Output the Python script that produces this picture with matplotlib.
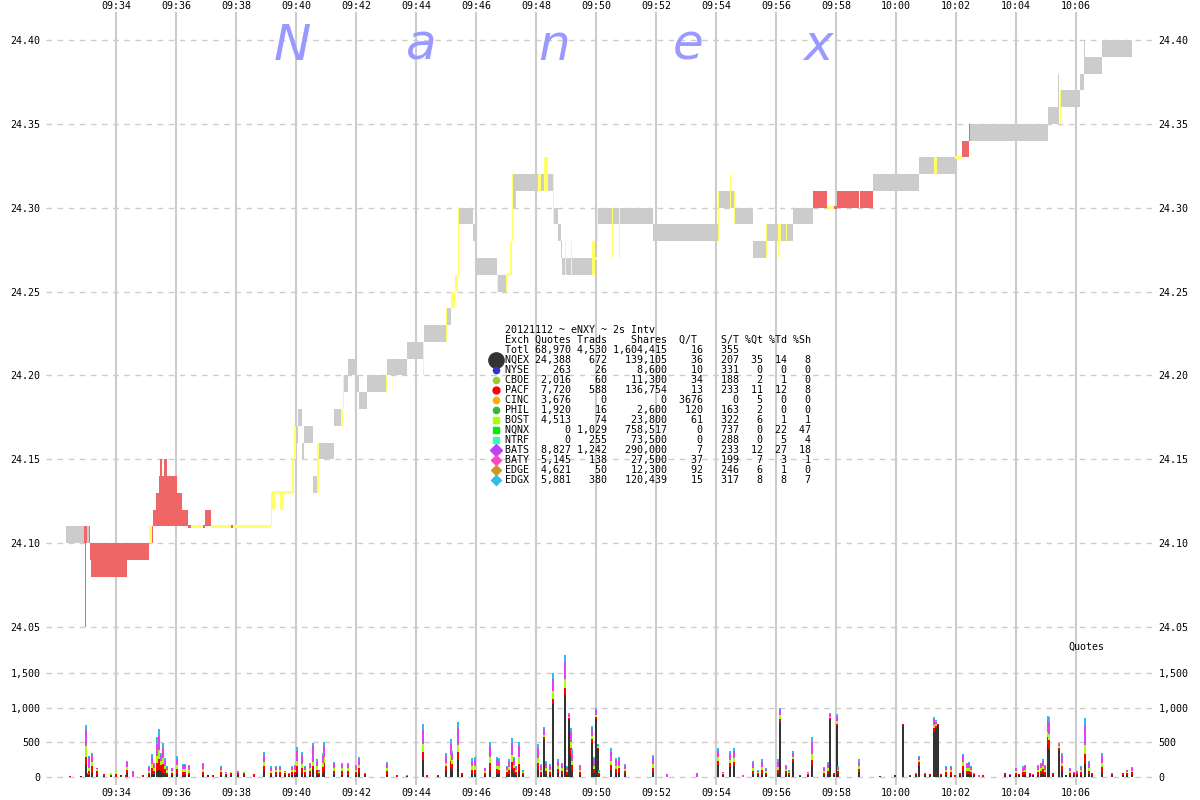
import matplotlib
matplotlib.use("Agg")
import matplotlib.pyplot as plt

# ---------------- data ----------------
# quote band (bid..ask) per time slice, coloured by source
band_start = ["09:32:20", "09:32:56", "09:32:58", "09:33:00", "09:33:02", "09:33:06", "09:33:08", "09:33:10",
              "09:34:22", "09:35:06", "09:35:12", "09:35:14", "09:35:20", "09:35:26", "09:35:28", "09:35:32",
              "09:35:36", "09:35:42", "09:36:02", "09:36:12", "09:36:24", "09:36:30", "09:36:54", "09:36:58",
              "09:37:10", "09:37:50", "09:37:54", "09:39:10", "09:39:12", "09:39:12", "09:39:28", "09:39:52",
              "09:39:56", "09:40:00", "09:40:04", "09:40:12", "09:40:16", "09:40:34", "09:40:42", "09:40:46",
              "09:41:16", "09:41:30", "09:41:34", "09:41:36", "09:41:44", "09:42:00", "09:42:06", "09:42:22",
              "09:43:00", "09:43:02", "09:43:42", "09:44:14", "09:44:16", "09:45:00", "09:45:02", "09:45:10",
              "09:45:18", "09:45:24", "09:45:26", "09:45:54", "09:45:58", "09:46:42", "09:46:42", "09:47:00",
              "09:47:02", "09:47:08", "09:47:12", "09:47:14", "09:47:20", "09:48:04", "09:48:10", "09:48:16",
              "09:48:24", "09:48:34", "09:48:36", "09:48:44", "09:48:50", "09:48:52", "09:48:58", "09:49:10",
              "09:49:52", "09:49:58", "09:50:02", "09:50:04", "09:50:32", "09:50:46", "09:51:54", "09:54:04",
              "09:54:06", "09:54:28", "09:54:36", "09:54:38", "09:55:14", "09:55:40", "09:55:42", "09:56:04",
              "09:56:04", "09:56:10", "09:56:20", "09:56:22", "09:56:34", "09:57:14", "09:57:42", "09:57:56",
              "09:58:02", "09:58:48", "09:59:14", "10:00:46", "10:01:16", "10:01:22", "10:01:58", "10:02:12",
              "10:02:26", "10:02:28", "10:05:04", "10:05:24", "10:05:28", "10:05:30", "10:06:08", "10:06:16",
              "10:06:18", "10:06:52"]
band_end = ["09:32:56", "09:32:59", "09:33:00", "09:33:02", "09:33:06", "09:33:08", "09:33:10", "09:34:22",
            "09:35:06", "09:35:12", "09:35:14", "09:35:20", "09:35:26", "09:35:28", "09:35:32", "09:35:36",
            "09:35:42", "09:36:02", "09:36:12", "09:36:24", "09:36:30", "09:36:54", "09:36:58", "09:37:10",
            "09:37:50", "09:37:54", "09:39:10", "09:39:12", "09:39:52", "09:39:18", "09:39:36", "09:39:56",
            "09:40:00", "09:40:04", "09:40:12", "09:40:16", "09:40:34", "09:40:42", "09:40:46", "09:41:16",
            "09:41:30", "09:41:34", "09:41:36", "09:41:44", "09:42:00", "09:42:06", "09:42:22", "09:43:00",
            "09:43:02", "09:43:42", "09:44:14", "09:44:16", "09:45:00", "09:45:02", "09:45:10", "09:45:18",
            "09:45:24", "09:45:26", "09:45:54", "09:45:58", "09:46:42", "09:47:02", "09:46:44", "09:47:02",
            "09:47:08", "09:47:12", "09:47:14", "09:47:20", "09:48:04", "09:48:10", "09:48:16", "09:48:24",
            "09:48:34", "09:48:36", "09:48:44", "09:48:50", "09:48:52", "09:49:52", "09:49:00", "09:49:12",
            "09:49:58", "09:50:02", "09:50:04", "09:51:54", "09:50:34", "09:50:48", "09:54:04", "09:54:06",
            "09:54:36", "09:54:30", "09:54:38", "09:55:14", "09:55:40", "09:55:42", "09:56:04", "09:56:10",
            "09:56:06", "09:56:20", "09:56:22", "09:56:34", "09:57:14", "09:57:42", "09:57:56", "09:58:02",
            "09:58:46", "09:59:14", "10:00:46", "10:01:16", "10:01:22", "10:01:58", "10:02:12", "10:02:26",
            "10:02:28", "10:05:04", "10:05:26", "10:05:26", "10:05:30", "10:06:08", "10:06:16", "10:06:18",
            "10:06:52", "10:07:52"]
band_bid = [24.10, 24.10, 24.05, 24.10, 24.10, 24.10, 24.09, 24.08,
            24.09, 24.10, 24.10, 24.11, 24.11, 24.11, 24.11, 24.11,
            24.11, 24.11, 24.11, 24.11, 24.11, 24.11, 24.11, 24.11,
            24.11, 24.11, 24.11, 24.11, 24.13, 24.12, 24.12, 24.13,
            24.15, 24.16, 24.17, 24.15, 24.16, 24.13, 24.13, 24.15,
            24.17, 24.17, 24.18, 24.19, 24.20, 24.19, 24.18, 24.19,
            24.19, 24.20, 24.21, 24.20, 24.22, 24.22, 24.23, 24.24,
            24.25, 24.26, 24.29, 24.28, 24.26, 24.25, 24.25, 24.25,
            24.26, 24.26, 24.28, 24.30, 24.31, 24.31, 24.31, 24.31,
            24.31, 24.29, 24.29, 24.28, 24.27, 24.26, 24.26, 24.26,
            24.26, 24.27, 24.28, 24.29, 24.27, 24.27, 24.28, 24.28,
            24.30, 24.30, 24.29, 24.29, 24.27, 24.27, 24.28, 24.28,
            24.27, 24.28, 24.28, 24.28, 24.29, 24.30, 24.30, 24.30,
            24.30, 24.30, 24.31, 24.32, 24.32, 24.32, 24.33, 24.33,
            24.34, 24.34, 24.35, 24.36, 24.35, 24.36, 24.37, 24.38,
            24.38, 24.39]
band_ask = [24.11, 24.11, 24.10, 24.11, 24.11, 24.11, 24.10, 24.10,
            24.10, 24.11, 24.11, 24.12, 24.13, 24.14, 24.15, 24.14,
            24.15, 24.14, 24.13, 24.12, 24.11, 24.11, 24.11, 24.12,
            24.11, 24.11, 24.11, 24.13, 24.13, 24.13, 24.13, 24.15,
            24.17, 24.17, 24.18, 24.16, 24.17, 24.14, 24.16, 24.16,
            24.18, 24.18, 24.20, 24.20, 24.21, 24.20, 24.19, 24.20,
            24.20, 24.21, 24.22, 24.22, 24.23, 24.24, 24.24, 24.25,
            24.26, 24.30, 24.30, 24.29, 24.27, 24.26, 24.26, 24.26,
            24.26, 24.28, 24.32, 24.32, 24.32, 24.32, 24.32, 24.33,
            24.32, 24.32, 24.30, 24.29, 24.28, 24.27, 24.28, 24.28,
            24.28, 24.27, 24.30, 24.30, 24.30, 24.30, 24.29, 24.31,
            24.31, 24.32, 24.31, 24.30, 24.28, 24.29, 24.29, 24.29,
            24.28, 24.29, 24.29, 24.29, 24.30, 24.31, 24.30, 24.30,
            24.31, 24.31, 24.32, 24.33, 24.33, 24.33, 24.33, 24.34,
            24.35, 24.35, 24.36, 24.38, 24.37, 24.37, 24.38, 24.40,
            24.39, 24.40]
band_src = ["g", "r", "r", "r", "g", "r", "r", "r",
            "r", "y", "r", "r", "r", "r", "r", "r",
            "r", "r", "r", "r", "r", "y", "r", "r",
            "y", "r", "y", "y", "y", "y", "y", "y",
            "y", "g", "g", "g", "g", "g", "y", "g",
            "g", "y", "y", "g", "g", "g", "g", "g",
            "y", "g", "g", "y", "g", "y", "g", "y",
            "y", "y", "g", "g", "g", "g", "y", "y",
            "y", "y", "y", "g", "g", "y", "g", "y",
            "g", "y", "g", "g", "g", "g", "y", "y",
            "y", "y", "y", "g", "y", "y", "g", "y",
            "g", "y", "y", "g", "g", "y", "g", "y",
            "y", "g", "y", "g", "g", "r", "y", "r",
            "r", "r", "g", "g", "y", "g", "y", "r",
            "r", "g", "g", "g", "y", "g", "g", "g",
            "g", "g"]

# quotes per 2s interval, stacked by exchange
vol_time = ["09:32:28", "09:32:50", "09:33:00", "09:33:04", "09:33:06", "09:33:12", "09:33:22", "09:33:36",
            "09:33:50", "09:34:00", "09:34:10", "09:34:20", "09:34:22", "09:34:34", "09:34:54", "09:35:06",
            "09:35:12", "09:35:16", "09:35:22", "09:35:26", "09:35:30", "09:35:34", "09:35:38", "09:35:42",
            "09:35:52", "09:36:02", "09:36:14", "09:36:18", "09:36:26", "09:36:54", "09:37:04", "09:37:14",
            "09:37:30", "09:37:40", "09:37:50", "09:38:04", "09:38:16", "09:38:36", "09:38:56", "09:39:10",
            "09:39:20", "09:39:28", "09:39:38", "09:39:46", "09:39:52", "09:39:58", "09:40:02", "09:40:12",
            "09:40:18", "09:40:28", "09:40:34", "09:40:42", "09:40:46", "09:40:54", "09:40:56", "09:41:16",
            "09:41:32", "09:41:44", "09:42:00", "09:42:06", "09:42:18", "09:43:02", "09:43:22", "09:43:42",
            "09:44:14", "09:44:22", "09:44:44", "09:45:00", "09:45:10", "09:45:12", "09:45:24", "09:45:32",
            "09:45:52", "09:45:58", "09:46:18", "09:46:28", "09:46:42", "09:46:46", "09:47:02", "09:47:06",
            "09:47:12", "09:47:16", "09:47:20", "09:47:26", "09:47:34", "09:48:04", "09:48:10", "09:48:16",
            "09:48:20", "09:48:28", "09:48:34", "09:48:44", "09:48:52", "09:48:58", "09:49:02", "09:49:06",
            "09:49:10", "09:49:12", "09:49:28", "09:49:52", "09:49:56", "09:50:00", "09:50:04", "09:50:06",
            "09:50:30", "09:50:40", "09:50:46", "09:50:58", "09:51:54", "09:52:22", "09:53:22", "09:54:04",
            "09:54:14", "09:54:28", "09:54:36", "09:54:54", "09:55:14", "09:55:24", "09:55:32", "09:55:40",
            "09:56:04", "09:56:08", "09:56:20", "09:56:26", "09:56:34", "09:56:48", "09:57:04", "09:57:12",
            "09:57:36", "09:57:44", "09:57:48", "09:57:56", "09:58:02", "09:58:04", "09:58:46", "09:59:28",
            "09:59:58", "10:00:14", "10:00:28", "10:00:40", "10:00:46", "10:00:58", "10:01:08", "10:01:16",
            "10:01:20", "10:01:24", "10:01:30", "10:01:40", "10:01:50", "10:01:58", "10:02:08", "10:02:14",
            "10:02:22", "10:02:26", "10:02:30", "10:02:36", "10:02:46", "10:02:54", "10:03:38", "10:03:48",
            "10:04:00", "10:04:06", "10:04:14", "10:04:18", "10:04:28", "10:04:34", "10:04:44", "10:04:50",
            "10:04:54", "10:04:58", "10:05:04", "10:05:06", "10:05:14", "10:05:26", "10:05:32", "10:05:40",
            "10:05:48", "10:05:56", "10:06:02", "10:06:10", "10:06:18", "10:06:26", "10:06:32", "10:06:52",
            "10:07:12", "10:07:34", "10:07:42", "10:07:52"]
vol_nqex = [0, 5, 155, 20, 30, 50, 20, 10, 10, 0, 30, 0, 60, 0, 0, 20,
            40, 40, 80, 100, 90, 60, 40, 20, 20, 40, 20, 30, 20, 30, 20, 0,
            30, 20, 20, 20, 20, 0, 90, 20, 30, 20, 20, 10, 30, 20, 60, 50,
            30, 30, 100, 40, 20, 60, 80, 40, 30, 30, 30, 50, 20, 30, 0, 10,
            240, 0, 10, 80, 130, 100, 240, 20, 40, 40, 20, 90, 40, 40, 30, 40,
            100, 50, 30, 80, 20, 100, 30, 530, 40, 30, 1050, 60, 40, 1180, 30, 830,
            320, 80, 30, 490, 50, 830, 400, 20, 100, 60, 60, 40, 70, 0, 0, 170,
            20, 140, 160, 0, 40, 20, 40, 20, 50, 800, 40, 20, 220, 10, 20, 150,
            20, 40, 820, 20, 730, 40, 70, 15, 20, 750, 10, 20, 160, 20, 20, 650,
            700, 750, 20, 30, 30, 0, 20, 80, 40, 40, 30, 20, 0, 0, 20, 20,
            30, 20, 30, 30, 20, 20, 30, 40, 50, 30, 460, 400, 20, 390, 80, 20,
            30, 20, 20, 30, 190, 40, 20, 60, 20, 20, 20, 30]
vol_pacf = [10, 10, 135, 20, 60, 100, 60, 30, 20, 40, 0, 30, 40, 0, 25, 40,
            80, 50, 120, 160, 80, 120, 70, 40, 40, 70, 50, 40, 40, 40, 0, 20,
            40, 20, 30, 40, 30, 40, 60, 40, 40, 50, 30, 30, 40, 50, 90, 80,
            40, 50, 60, 60, 30, 80, 120, 50, 50, 50, 40, 70, 20, 50, 30, 0,
            120, 20, 20, 70, 100, 80, 120, 30, 60, 60, 40, 110, 70, 60, 40, 60,
            120, 70, 40, 110, 30, 100, 40, 40, 50, 40, 80, 50, 50, 110, 40, 20,
            100, 90, 40, 50, 60, 30, 20, 30, 70, 50, 60, 40, 60, 0, 0, 60,
            20, 60, 60, 0, 50, 30, 60, 30, 50, 40, 40, 30, 40, 20, 20, 90,
            40, 50, 30, 30, 40, 40, 40, 0, 0, 10, 10, 20, 50, 20, 20, 50,
            40, 10, 20, 40, 40, 30, 30, 70, 50, 50, 40, 20, 0, 20, 30, 0,
            30, 20, 40, 40, 30, 0, 40, 50, 60, 40, 110, 130, 30, 30, 70, 0,
            30, 30, 30, 40, 140, 50, 30, 80, 20, 30, 30, 40]
vol_bost = [0, 0, 150, 0, 40, 60, 30, 0, 20, 30, 0, 0, 40, 0, 0, 30,
            60, 40, 100, 130, 60, 90, 50, 40, 30, 60, 40, 40, 40, 40, 0, 0,
            30, 20, 20, 0, 20, 0, 60, 30, 30, 30, 20, 0, 30, 30, 80, 60,
            30, 40, 60, 50, 20, 60, 80, 40, 40, 40, 30, 50, 0, 40, 0, 0,
            110, 0, 0, 50, 90, 60, 100, 0, 50, 50, 30, 80, 50, 50, 30, 40,
            90, 50, 30, 90, 20, 70, 30, 40, 40, 30, 120, 40, 30, 120, 30, 20,
            90, 60, 30, 50, 50, 40, 20, 20, 60, 40, 40, 30, 50, 0, 0, 50,
            20, 40, 50, 0, 40, 20, 40, 30, 40, 50, 30, 20, 30, 0, 20, 90,
            20, 40, 20, 0, 40, 20, 40, 0, 0, 0, 0, 0, 30, 0, 0, 50,
            30, 0, 0, 30, 30, 0, 0, 60, 40, 40, 30, 0, 0, 0, 0, 0,
            20, 0, 20, 30, 0, 0, 30, 30, 40, 30, 80, 90, 0, 20, 50, 0,
            20, 0, 0, 30, 130, 40, 0, 60, 0, 0, 20, 20]
vol_bats = [0, 0, 240, 20, 150, 100, 20, 0, 10, 0, 0, 0, 70, 90, 0, 50,
            110, 50, 180, 200, 80, 150, 80, 40, 30, 90, 60, 60, 50, 70, 0, 0,
            40, 10, 0, 30, 0, 0, 110, 40, 40, 40, 20, 20, 40, 50, 150, 130,
            40, 60, 240, 70, 30, 100, 160, 70, 60, 60, 50, 80, 20, 70, 0, 20,
            210, 0, 0, 100, 160, 100, 240, 0, 80, 90, 30, 170, 90, 80, 40, 80,
            180, 80, 40, 170, 20, 150, 60, 80, 70, 60, 160, 70, 60, 250, 40, 40,
            140, 120, 50, 100, 90, 70, 20, 20, 130, 90, 100, 50, 100, 40, 60, 100,
            10, 100, 110, 30, 70, 20, 80, 30, 80, 80, 40, 20, 60, 0, 10, 170,
            40, 60, 40, 0, 70, 40, 70, 0, 0, 0, 0, 20, 40, 10, 0, 80,
            30, 0, 0, 40, 40, 0, 0, 100, 50, 70, 40, 20, 30, 0, 0, 20,
            40, 0, 40, 50, 0, 20, 50, 60, 80, 50, 160, 170, 0, 30, 110, 0,
            40, 20, 30, 40, 290, 70, 0, 100, 20, 0, 30, 40]
vol_edgx = [0, 0, 70, 0, 20, 30, 0, 0, 0, 0, 0, 0, 20, 0, 0, 20,
            40, 20, 100, 100, 40, 70, 30, 20, 10, 40, 20, 20, 20, 20, 0, 0,
            10, 0, 0, 0, 0, 0, 40, 20, 10, 20, 0, 0, 20, 20, 50, 40,
            10, 20, 30, 30, 0, 40, 60, 20, 20, 20, 20, 30, 0, 30, 0, 0,
            90, 0, 0, 40, 60, 40, 90, 0, 40, 40, 10, 60, 40, 40, 20, 30,
            70, 40, 20, 60, 10, 50, 20, 30, 30, 20, 100, 30, 20, 120, 10, 20,
            60, 50, 20, 40, 30, 30, 10, 10, 50, 30, 30, 20, 30, 0, 0, 40,
            0, 30, 40, 0, 30, 10, 30, 10, 30, 30, 20, 10, 20, 0, 0, 70,
            20, 30, 20, 0, 30, 10, 30, 0, 0, 0, 0, 0, 20, 0, 0, 40,
            20, 0, 0, 10, 20, 0, 0, 20, 20, 20, 10, 0, 0, 0, 0, 0,
            10, 0, 20, 20, 0, 0, 20, 20, 30, 20, 70, 70, 0, 20, 30, 0,
            10, 0, 0, 10, 100, 30, 0, 40, 0, 0, 0, 10]

# summary table
stat_title = "20121112 ~ eNXY ~ 2s Intv"
tot_quotes, tot_trads, tot_shares, tot_qt, tot_st = 68970, 4530, 1604415, 16, 355
ex_names = ["NQEX", "NYSE", "CBOE", "PACF", "CINC", "PHIL", "BOST", "NQNX", "NTRF", "BATS", "BATY", "EDGE", "EDGX"]
ex_quotes = [24388, 263, 2016, 7720, 3676, 1920, 4513, 0, 0, 8827, 5145, 4621, 5881]
ex_trads = [672, 26, 60, 588, 0, 16, 74, 1029, 255, 1242, 138, 50, 380]
ex_shares = [139105, 8600, 11300, 136754, 0, 2600, 23800, 758517, 73500, 290000, 27500, 12300, 120439]
ex_qt = [36, 10, 34, 13, 3676, 120, 61, 0, 0, 7, 37, 92, 15]
ex_st = [207, 331, 188, 233, 0, 163, 322, 737, 288, 233, 199, 246, 317]
ex_pqt = [35, 0, 2, 11, 5, 2, 6, 0, 0, 12, 7, 6, 8]
ex_ptd = [14, 0, 1, 12, 0, 0, 1, 22, 5, 27, 3, 1, 8]
ex_psh = [8, 0, 0, 8, 0, 0, 1, 47, 4, 18, 1, 0, 7]

time_ticks = ["09:34", "09:36", "09:38", "09:40", "09:42", "09:44", "09:46", "09:48", "09:50",
              "09:52", "09:54", "09:56", "09:58", "10:00", "10:02", "10:04", "10:06"]
price_ticks = [24.05, 24.10, 24.15, 24.20, 24.25, 24.30, 24.35, 24.40]
vol_ticks = [0, 500, 1000, 1500]


def secs(s):
    parts = [int(p) for p in s.split(":")]
    if len(parts) == 2:
        parts.append(0)
    return parts[0] * 3600 + parts[1] * 60 + parts[2] - (9 * 3600 + 30 * 60)


MONO = "DejaVu Sans Mono"
FS = 7.2
GRID = "#cccccc"
band_colors = {"g": "#cccccc", "r": "#f06666", "y": "#ffff66"}

fig = plt.figure(figsize=(12, 8), dpi=100)
fig.patch.set_facecolor("white")

ax = fig.add_axes([46 / 1200, 0.18125, 1107 / 1200, 0.80375])
axv = fig.add_axes([46 / 1200, 0.01875, 1107 / 1200, 0.1625])

# price band
for s0, s1, lo, hi, c in zip(band_start, band_end, band_bid, band_ask, band_src):
    t0, t1 = secs(s0), secs(s1)
    h = hi - lo
    if h < 0.001:
        lo, h = lo - 0.0009, 0.0018
    ax.bar(t0, h, width=t1 - t0, bottom=lo, align="edge", color=band_colors[c], linewidth=0, zorder=2)

# stacked quote counts
vt = [secs(s) for s in vol_time]
bottom = [0] * len(vt)
for vals, col in [(vol_nqex, "#333333"), (vol_pacf, "#ff0000"), (vol_bost, "#aaff00"),
                  (vol_bats, "#dd44ee"), (vol_edgx, "#33bbee")]:
    axv.bar(vt, vals, width=3.2, bottom=bottom, color=col, linewidth=0, zorder=2)
    bottom = [b + v for b, v in zip(bottom, vals)]

xt = [secs(t) for t in time_ticks]
for a in (ax, axv):
    a.set_xlim(100, 2314)
    a.set_xticks(xt)
    for sp in a.spines.values():
        sp.set_visible(False)
    a.set_axisbelow(True)
    a.grid(axis="x", color=GRID, lw=1.5, ls="-")
    a.grid(axis="y", color=GRID, lw=1, ls=(0, (4, 4)))
    a.tick_params(length=0, labelleft=True, labelright=True, pad=4)
    for lab in a.get_xticklabels() + a.get_yticklabels():
        lab.set_fontfamily(MONO)
        lab.set_fontsize(FS)

ax.set_ylim(24.0333, 24.4167)
ax.set_yticks(price_ticks)
ax.set_yticklabels(["%.2f" % p for p in price_ticks], fontfamily=MONO, fontsize=FS)
ax.xaxis.tick_top()
ax.set_xticklabels(time_ticks, fontfamily=MONO, fontsize=FS)
ax.tick_params(axis="x", pad=1)

axv.set_ylim(-120, 1765)
axv.set_yticks(vol_ticks)
axv.set_yticklabels(["{:,}".format(v) for v in vol_ticks], fontfamily=MONO, fontsize=FS)
axv.set_xticklabels(time_ticks, fontfamily=MONO, fontsize=FS)
axv.tick_params(axis="x", pad=2)

# watermark
for ch, xp in zip("Nanex", [292, 421, 554, 688, 818]):
    fig.text(xp / 1200, 1 - 60 / 800, ch, ha="center", va="baseline", fontsize=36,
             style="italic", color="#9999ff", family="DejaVu Sans", zorder=3)

fig.text(1068 / 1200, 1 - 647 / 800, "Quotes", ha="left", va="center", fontsize=FS, family=MONO)

# summary table
x0 = 505 / 1200
lines = [stat_title,
         "Exch Quotes Trads    Shares  Q/T    S/T %Qt %Td %Sh",
         "{:<4} {:>6} {:>5} {:>9} {:>5} {:>5}".format("Totl", "{:,}".format(tot_quotes), "{:,}".format(tot_trads),
                                                      "{:,}".format(tot_shares), tot_qt, tot_st)]
for i, n in enumerate(ex_names):
    lines.append("{:<4} {:>6} {:>5} {:>9} {:>5} {:>5} {:>3} {:>3} {:>3}".format(
        n, "{:,}".format(ex_quotes[i]), "{:,}".format(ex_trads[i]), "{:,}".format(ex_shares[i]),
        ex_qt[i], ex_st[i], ex_pqt[i], ex_ptd[i], ex_psh[i]))
for k, ln in enumerate(lines):
    fig.text(x0, 1 - (330 + 10 * k) / 800, ln, ha="left", va="center", fontsize=FS, family=MONO)

markers = [("o", "#333333", 11), ("o", "#3333cc", 4.5), ("o", "#99cc33", 4.5), ("o", "#ff0000", 5),
           ("o", "#ffaa00", 4.5), ("o", "#33bb33", 4.5), ("s", "#aaff00", 4.5), ("s", "#00ee00", 4.5),
           ("s", "#33ffbb", 4.5), ("D", "#bb44ee", 6.5), ("D", "#ff44cc", 5), ("D", "#cc9922", 5),
           ("D", "#33bbee", 5)]
for k, (m, c, ms) in enumerate(markers):
    yk = 1 - (360 + 10 * k) / 800
    fig.lines.append(plt.Line2D([496 / 1200], [yk], marker=m, color=c, markersize=ms,
                                linestyle="none", transform=fig.transFigure, figure=fig))

fig.savefig("out.png", dpi=100, facecolor="white")
